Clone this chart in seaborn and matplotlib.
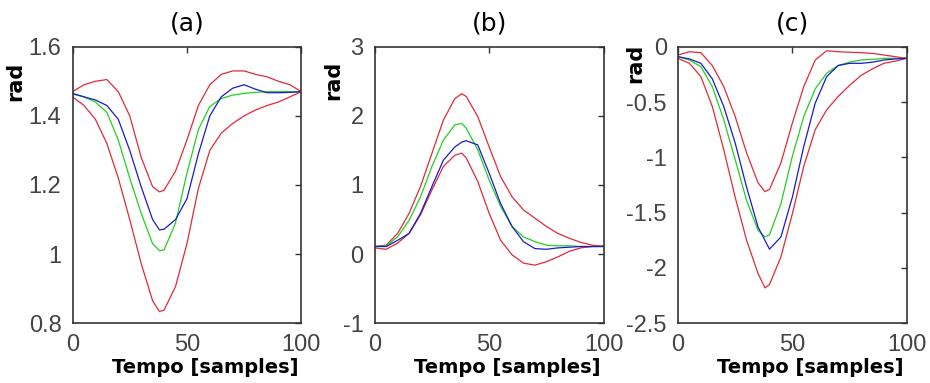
import matplotlib
matplotlib.use("Agg")
import matplotlib.pyplot as plt
import seaborn as sns

# sample positions (Tempo [samples])
x = [0, 5, 10, 15, 20, 25, 30, 35, 38, 40, 45, 50, 55, 60, 65, 70, 75, 80, 85, 90, 95, 100]

# panel (a)
a_upper = [1.47, 1.49, 1.50, 1.505, 1.47, 1.40, 1.28, 1.195, 1.18, 1.185, 1.24, 1.33, 1.43, 1.49, 1.52, 1.53, 1.53, 1.52, 1.513, 1.50, 1.49, 1.47]
a_blue = [1.465, 1.455, 1.446, 1.43, 1.39, 1.30, 1.195, 1.10, 1.07, 1.072, 1.10, 1.16, 1.29, 1.40, 1.455, 1.48, 1.49, 1.477, 1.467, 1.467, 1.468, 1.47]
a_green = [1.463, 1.455, 1.44, 1.41, 1.33, 1.22, 1.118, 1.03, 1.01, 1.012, 1.09, 1.234, 1.36, 1.427, 1.45, 1.46, 1.465, 1.468, 1.47, 1.47, 1.47, 1.47]
a_lower = [1.455, 1.43, 1.39, 1.32, 1.22, 1.10, 0.973, 0.865, 0.834, 0.838, 0.906, 1.03, 1.19, 1.30, 1.35, 1.378, 1.40, 1.417, 1.43, 1.44, 1.455, 1.47]

# panel (b)
b_upper = [0.11, 0.13, 0.30, 0.59, 0.98, 1.46, 1.94, 2.25, 2.32, 2.28, 1.99, 1.55, 1.12, 0.83, 0.64, 0.52, 0.40, 0.30, 0.23, 0.17, 0.13, 0.11]
b_green = [0.11, 0.12, 0.25, 0.49, 0.83, 1.27, 1.65, 1.87, 1.89, 1.82, 1.51, 1.07, 0.69, 0.40, 0.25, 0.18, 0.13, 0.12, 0.12, 0.11, 0.11, 0.11]
b_blue = [0.11, 0.11, 0.20, 0.30, 0.59, 0.98, 1.36, 1.55, 1.62, 1.64, 1.58, 1.17, 0.73, 0.40, 0.18, 0.08, 0.07, 0.09, 0.10, 0.11, 0.11, 0.11]
b_lower = [0.09, 0.07, 0.16, 0.30, 0.57, 0.93, 1.27, 1.43, 1.46, 1.39, 1.05, 0.59, 0.20, -0.01, -0.13, -0.16, -0.11, -0.04, 0.04, 0.09, 0.11, 0.12]

# panel (c)
c_upper = [-0.075, -0.045, -0.054, -0.17, -0.36, -0.63, -0.96, -1.23, -1.31, -1.29, -1.05, -0.69, -0.36, -0.12, -0.036, -0.045, -0.05, -0.054, -0.06, -0.075, -0.09, -0.105]
c_green = [-0.09, -0.12, -0.18, -0.36, -0.66, -1.02, -1.39, -1.66, -1.72, -1.70, -1.42, -0.99, -0.63, -0.38, -0.24, -0.17, -0.14, -0.12, -0.115, -0.105, -0.105, -0.105]
c_blue = [-0.09, -0.11, -0.15, -0.29, -0.54, -0.87, -1.27, -1.63, -1.75, -1.83, -1.72, -1.36, -0.90, -0.51, -0.27, -0.17, -0.15, -0.15, -0.14, -0.12, -0.11, -0.105]
c_lower = [-0.105, -0.15, -0.27, -0.54, -0.93, -1.36, -1.75, -2.05, -2.18, -2.15, -1.90, -1.51, -1.08, -0.75, -0.57, -0.45, -0.35, -0.26, -0.20, -0.15, -0.13, -0.105]

titles = ["(a)", "(b)", "(c)"]
ylims = [(0.8, 1.6), (-1, 3), (-2.5, 0)]
yticks = [[0.8, 1, 1.2, 1.4, 1.6], [-1, 0, 1, 2, 3], [-2.5, -2, -1.5, -1, -0.5, 0]]
yticklabels = [["0.8", "1", "1.2", "1.4", "1.6"], ["-1", "0", "1", "2", "3"],
               ["-2.5", "-2", "-1.5", "-1", "-0.5", "0"]]
panels = [(a_upper, a_lower, a_green, a_blue),
          (b_upper, b_lower, b_green, b_blue),
          (c_upper, c_lower, c_green, c_blue)]

sns.set_style("white")
plt.rcParams['font.family'] = ['DejaVu Sans']
plt.rcParams['axes.unicode_minus'] = False

fig = plt.figure(figsize=(9.3, 3.83), dpi=100)
lefts = [0.078, 0.403, 0.729]
# where the rotated "rad" label sits (axes coords)
ylab_pos = [(-0.208, 0.876), (-0.14, 0.88), (-0.145, 0.941)]

for i, (upper, lower, green, blue) in enumerate(panels):
    ax = fig.add_axes([lefts[i], 0.156, 0.246, 0.722])
    sns.lineplot(x=x, y=upper, color="#e02a3a", lw=0.9, ax=ax)
    sns.lineplot(x=x, y=lower, color="#e02a3a", lw=0.9, ax=ax)
    sns.lineplot(x=x, y=green, color="#22d022", lw=0.9, ax=ax)
    sns.lineplot(x=x, y=blue, color="#1a1acc", lw=0.9, ax=ax)

    ax.set_xlim(0, 100)
    ax.set_ylim(*ylims[i])
    ax.set_xticks([0, 50, 100])
    ax.set_yticks(yticks[i])
    ax.set_yticklabels(yticklabels[i])
    ax.tick_params(direction="in", length=4, width=1, top=True, right=True,
                   colors="#333333", pad=8)
    for lab in ax.get_xticklabels() + ax.get_yticklabels():
        lab.set_fontfamily("Liberation Sans")
        lab.set_fontsize(17)
        lab.set_color("#444444")
    for s in ax.spines.values():
        s.set_color("#333333")
        s.set_linewidth(1.2)

    ax.set_title(titles[i], fontsize=18, pad=12, color="black")
    ax.set_xlabel("Tempo [samples]", fontsize=14, fontweight="bold", color="black")
    ax.xaxis.set_label_coords(0.578, -0.125)
    ax.set_ylabel("rad", fontsize=15, fontweight="bold", color="black")
    ax.yaxis.set_label_coords(*ylab_pos[i])

fig.savefig("out.png", dpi=100)
